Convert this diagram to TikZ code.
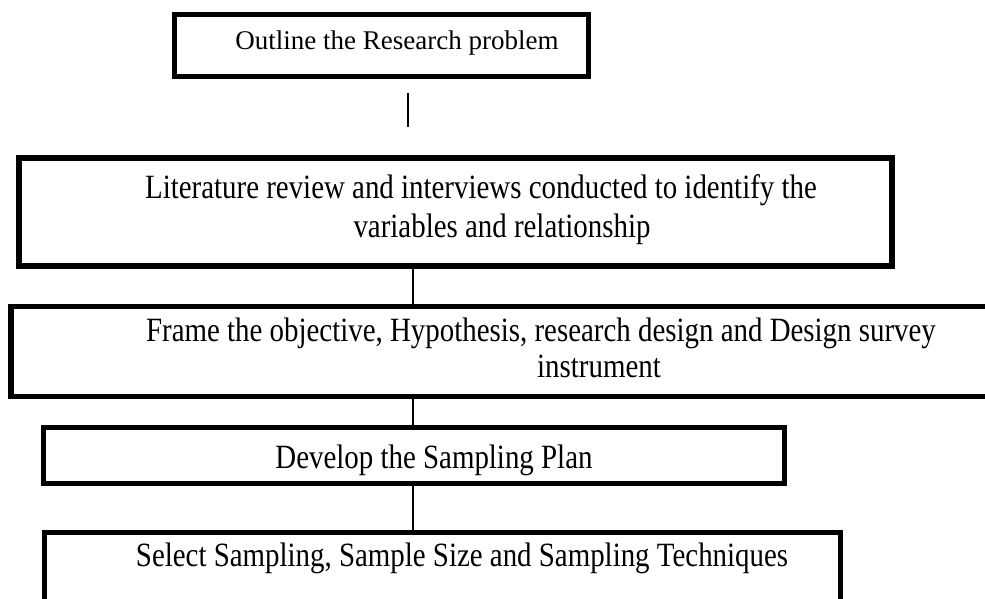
\documentclass[tikz,border=0pt]{standalone}
\usepackage{fontspec}
\setmainfont{Liberation Serif}
\newfontfamily\narrowserif[FakeStretch=0.85]{Liberation Serif}
\begin{document}
\begin{tikzpicture}[x=1pt,y=-1pt,
  stepbox/.style={draw=black, line width=5.5pt, inner sep=0pt},
  link/.style={draw=black, line width=2pt},
  titletext/.style={inner sep=0pt, anchor=base, font=\fontsize{27}{32}\selectfont},
  steptext/.style={inner sep=0pt, anchor=base, font=\narrowserif\fontsize{34}{40}\selectfont},
]
\useasboundingbox (0,0) rectangle (985,599);

% frames of the five stages
\node[stepbox, minimum width=414pt, minimum height=62pt]  (b1) at (381.5,45.5) {};
\node[stepbox, minimum width=873pt, minimum height=108pt] (b2) at (455.5,212) {};
\node[stepbox, minimum width=989pt, minimum height=90pt]  (b3) at (505.5,351.5) {};
\node[stepbox, minimum width=741pt, minimum height=56pt]  (b4) at (414,455.5) {};
\node[stepbox, minimum width=796pt, minimum height=107pt] (b5) at (442.5,586) {};

% stage texts
\node[titletext] (t1)  at (397,50)  {Outline the Research problem};
\node[steptext]  (t2a) at (481,198) {Literature review and interviews conducted to identify the};
\node[steptext]  (t2b) at (502,237) {variables and relationship};
\node[steptext]  (t3a) at (541,341) {Frame the objective, Hypothesis, research design and Design survey};
\node[steptext]  (t3b) at (599,377) {instrument};
\node[steptext]  (t4)  at (434,468) {Develop the Sampling Plan};
\node[steptext]  (t5)  at (462,566) {Select Sampling, Sample Size and Sampling Techniques};

% connectors
\coordinate (c1top) at (408,93);
\coordinate (c1bot) at (408,127);
\coordinate (spine) at (413,0);
\draw[link] (c1top) -- (c1bot);
\draw[link] (b2.south -| spine) -- (b3.north -| spine);
\draw[link] (b3.south -| spine) -- (b4.north -| spine);
\draw[link] (b4.south -| spine) -- (b5.north -| spine);
\end{tikzpicture}
\end{document}
